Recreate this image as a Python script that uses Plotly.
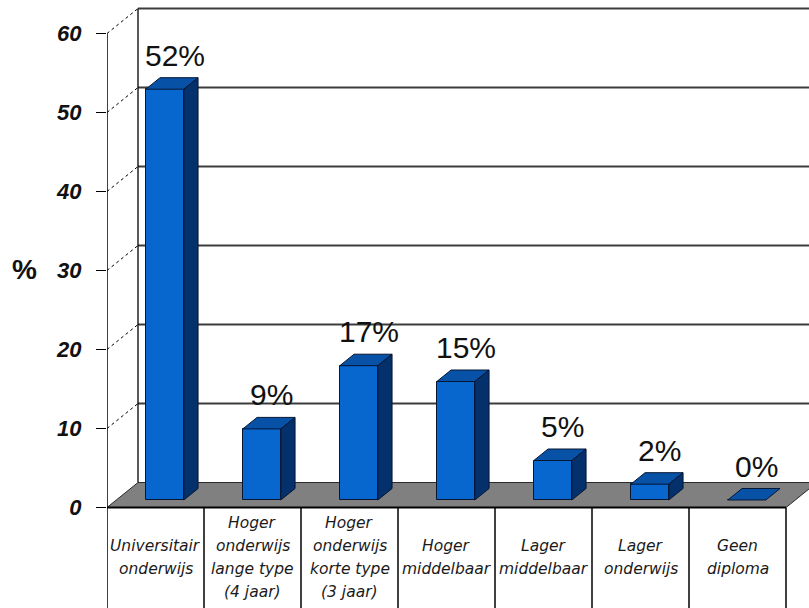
import plotly.graph_objects as go

# Education levels (one list entry per printed line) and their shares in %
categories = [
    ["Universitair", "onderwijs"],
    ["Hoger", "onderwijs", "lange type", "(4 jaar)"],
    ["Hoger", "onderwijs", "korte type", "(3 jaar)"],
    ["Hoger", "middelbaar"],
    ["Lager", "middelbaar"],
    ["Lager", "onderwijs"],
    ["Geen", "diploma"],
]
values = [52, 9, 17, 15, 5, 2, 0]
y_ticks = [0, 10, 20, 30, 40, 50, 60]

# ---- canvas / scale set-up -------------------------------------------------
W_PX, H_PX = 809, 608
LEFT = 107               # pixel position of the front value axis
CAT_PX = 97              # pixels per category slot
UNIT_PX = 7.9            # pixels per percentage point
FLOOR_PX = 507.5         # pixel row of the front floor edge

x_min = -0.5
x_max = x_min + (W_PX - LEFT) / CAT_PX
y_max = FLOOR_PX / UNIT_PX
y_min = -(H_PX - FLOOR_PX) / UNIT_PX

# depth vector of the 3-D box, in axis units
DX = 31 / CAT_PX
DY = 25 / UNIT_PX
D0, D1 = 0.30, 0.76          # front / back depth fraction of the bars
BAR_W = 38 / CAT_PX
n = len(values)

FRONT = "#0866cf"
TOP = "#0751a6"
SIDE = "#04306b"
EDGE = "#061633"

fig = go.Figure()
shapes = []
annotations = []

def seg(x0, y0, x1, y1, color="black", width=1.0, dash="solid", layer="below"):
    shapes.append(dict(type="line", xref="x", yref="y", x0=x0, y0=y0, x1=x1, y1=y1,
                       line=dict(color=color, width=width, dash=dash), layer=layer))

# back wall grid lines
for v in y_ticks[1:]:
    seg(x_min + DX, v + DY, x_max + 1, v + DY, color="#3c3c3c", width=2)
# back wall left edge
seg(x_min + DX, DY, x_min + DX, y_ticks[-1] + DY, width=1.3)
# side wall: diagonals from front ticks to the back wall
for v in y_ticks[1:]:
    seg(x_min, v, x_min + DX, v + DY, width=1, dash="dot")

# floor
x_end = x_min + n
shapes.append(dict(type="path", xref="x", yref="y", layer="below",
                   path=f"M {x_min},0 L {x_end},0 L {x_end + DX},{DY} L {x_min + DX},{DY} Z",
                   fillcolor="#808080", line=dict(color="#2a2a2a", width=1)))

# front value axis and category table
seg(x_min, y_ticks[-1], x_min, y_min, width=1.5, layer="above")
seg(x_min, 0, x_end, 0, width=2, layer="above")
for k in range(1, n + 1):
    seg(x_min + k, 0, x_min + k, y_min, width=1.5, layer="above")

# ---- bars -----------------------------------------------------------------
base = D0 * DY
ddx = (D1 - D0) * DX
ddy = (D1 - D0) * DY
xc = [i + D0 * DX for i in range(n)]

fig.add_trace(go.Bar(
    x=xc, y=values, base=[base] * n, width=BAR_W,
    marker=dict(color=FRONT, line=dict(color=EDGE, width=1)),
    hoverinfo="skip", showlegend=False,
))

for i, v in enumerate(values):
    xl, xr = xc[i] - BAR_W / 2, xc[i] + BAR_W / 2
    top = base + v
    # top face
    fig.add_trace(go.Scatter(
        x=[xl, xr, xr + ddx, xl + ddx, xl],
        y=[top, top, top + ddy, top + ddy, top],
        mode="lines", fill="toself", fillcolor=TOP,
        line=dict(color=EDGE, width=1), hoverinfo="skip", showlegend=False))
    # right side face
    if v > 0:
        fig.add_trace(go.Scatter(
            x=[xr, xr, xr + ddx, xr + ddx, xr],
            y=[base, top, top + ddy, base + ddy, base],
            mode="lines", fill="toself", fillcolor=SIDE,
            line=dict(color=EDGE, width=1), hoverinfo="skip", showlegend=False))
    # value label
    annotations.append(dict(
        x=xc[i] + ddx / 2 + 0.03, y=top + ddy, xref="x", yref="y",
        text=f"{v}%", showarrow=False, yanchor="bottom", yshift=4,
        font=dict(family="Liberation Sans, Arial", size=30, color="#111111")))

# category labels, one annotation per line
label_mid = -(557 - FLOOR_PX) / UNIT_PX
LINE_PX = 23
for i, lines in enumerate(categories):
    m = len(lines)
    for j, line in enumerate(lines):
        annotations.append(dict(
            x=i, y=label_mid, xref="x", yref="y", text=line, showarrow=False,
            yanchor="middle", yshift=-(j - (m - 1) / 2) * LINE_PX,
            font=dict(family="DejaVu Sans", size=15.5, color="#1a1a1a", style="italic")))

# axis title
annotations.append(dict(
    x=(24 - LEFT) / (W_PX - LEFT), y=(FLOOR_PX - 269) / UNIT_PX,
    xref="paper", yref="y", xanchor="center", yanchor="middle",
    text="%", showarrow=False,
    font=dict(family="Liberation Sans, Arial", size=28, weight="bold", color="#111111")))

fig.update_layout(
    width=W_PX, height=H_PX,
    margin=dict(l=LEFT, r=0, t=0, b=0, pad=0),
    paper_bgcolor="white", plot_bgcolor="white",
    shapes=shapes, annotations=annotations, showlegend=False,
    bargap=0,
    xaxis=dict(range=[x_min, x_max], visible=False, fixedrange=True),
    yaxis=dict(range=[y_min, y_max], tickvals=y_ticks, ticks="outside", ticklen=10,
               tickcolor="black", tickwidth=1.3, showgrid=False, zeroline=False,
               showline=False, ticklabelstandoff=10, fixedrange=True,
               tickfont=dict(family="Liberation Sans, Arial", size=22, weight="bold",
                             style="italic", color="#111111")),
)

fig.write_html("out.html")
